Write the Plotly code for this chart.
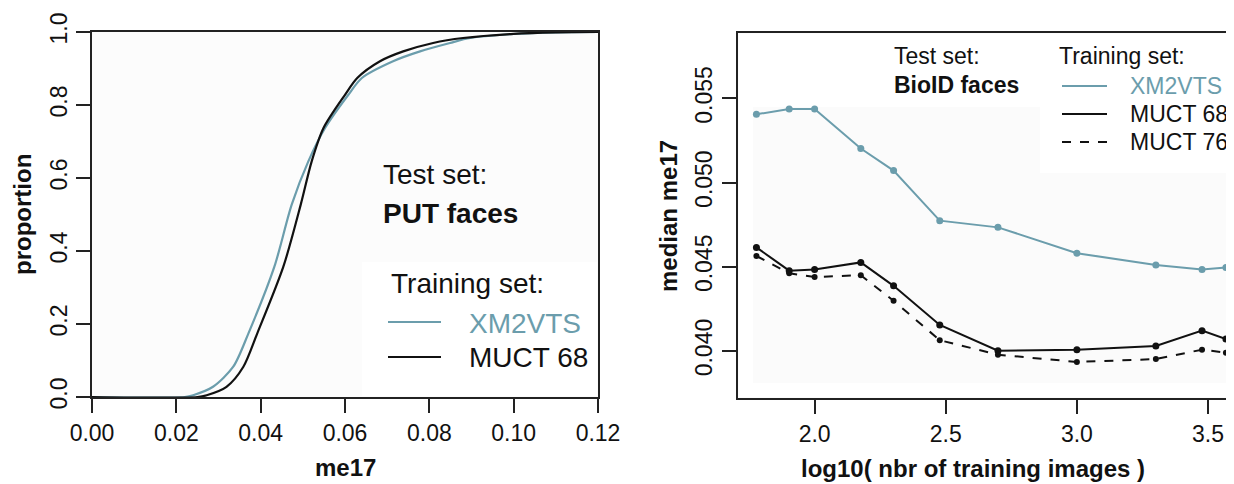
import numpy as np
import plotly.graph_objects as go

# page is drawn with an 8px body margin, so the figure is sized/offset accordingly
OFF = 8
W, H = 1234 - OFF, 484 - OFF

# ---------------- Data ----------------
# Left panel: cumulative distribution of me17 on PUT faces
cdf_xm2vts_x = [0.0, 0.022, 0.024, 0.0287, 0.0335, 0.0371, 0.04325, 0.04736, 0.0513,
                0.05527, 0.0608, 0.064, 0.0714, 0.0778, 0.0849, 0.0897, 0.100, 0.110, 0.120]
cdf_xm2vts_y = [0.0, 0.0, 0.005, 0.028, 0.083, 0.1745, 0.357, 0.527, 0.6457,
                0.737, 0.828, 0.874, 0.920, 0.947, 0.970, 0.9836, 0.9945, 0.999, 1.0]
cdf_muct68_x = [0.0, 0.025, 0.0272, 0.0319, 0.0359, 0.0392, 0.04538, 0.0495, 0.0521,
                0.0549, 0.0600, 0.0629, 0.0683, 0.0738, 0.0809, 0.0880, 0.100, 0.110, 0.120]
cdf_muct68_y = [0.0, 0.0, 0.005, 0.028, 0.083, 0.1745, 0.357, 0.527, 0.6457,
                0.737, 0.828, 0.874, 0.920, 0.947, 0.970, 0.9836, 0.995, 0.999, 1.0]

# Right panel: median me17 on BioID faces vs training set size
n_training = [60, 80, 100, 150, 200, 300, 500, 1000, 2000, 3000, 3700]
median_xm2vts = [0.05405, 0.05437, 0.05437, 0.05202, 0.05071, 0.04774, 0.04734,
                 0.04581, 0.04510, 0.04484, 0.04496]
median_muct68 = [0.04615, 0.04477, 0.04484, 0.04526, 0.04387, 0.04155, 0.04002,
                 0.04008, 0.04030, 0.04121, 0.04071]
median_muct76 = [0.04564, 0.04462, 0.04439, 0.04450, 0.04298, 0.04064, 0.03978,
                 0.03935, 0.03952, 0.04008, 0.03990]

left_xticks = [0.00, 0.02, 0.04, 0.06, 0.08, 0.10, 0.12]
left_xticklabels = ["0.00", "0.02", "0.04", "0.06", "0.08", "0.10", "0.12"]
left_yticks = [0.0, 0.2, 0.4, 0.6, 0.8, 1.0]
left_yticklabels = ["0.0", "0.2", "0.4", "0.6", "0.8", "1.0"]
right_xticks = [2.0, 2.5, 3.0, 3.5]
right_xticklabels = ["2.0", "2.5", "3.0", "3.5"]
right_yticks = [0.040, 0.045, 0.050, 0.055]
right_yticklabels = ["0.040", "0.045", "0.050", "0.055"]

TEAL = "#6b9dac"
BLACK = "#111111"
AXC = "#222222"
FONT = "Liberation Sans, Arial, Helvetica, sans-serif"

log_n = np.log10(n_training)

# ---------------- Figure ----------------
def px(x):
    return (x - OFF) / W

def py(y):
    return 1 - (y - OFF) / H

fig = go.Figure()

fig.add_trace(go.Scatter(x=cdf_xm2vts_x, y=cdf_xm2vts_y, mode="lines", line_shape="spline",
                         line=dict(color=TEAL, width=2.2, smoothing=0.8), xaxis="x", yaxis="y", showlegend=False))
fig.add_trace(go.Scatter(x=cdf_muct68_x, y=cdf_muct68_y, mode="lines", line_shape="spline",
                         line=dict(color=BLACK, width=2.2, smoothing=0.8), xaxis="x", yaxis="y", showlegend=False))

fig.add_trace(go.Scatter(x=log_n, y=median_xm2vts, mode="lines+markers",
                         line=dict(color=TEAL, width=2), marker=dict(color=TEAL, size=7),
                         xaxis="x2", yaxis="y2", showlegend=False))
fig.add_trace(go.Scatter(x=log_n, y=median_muct68, mode="lines+markers",
                         line=dict(color=BLACK, width=2), marker=dict(color=BLACK, size=7),
                         xaxis="x2", yaxis="y2", showlegend=False))
fig.add_trace(go.Scatter(x=log_n, y=median_muct76, mode="lines+markers",
                         line=dict(color=BLACK, width=2, dash="dash"), marker=dict(color=BLACK, size=6),
                         xaxis="x2", yaxis="y2", showlegend=False))

axis_common = dict(showgrid=False, zeroline=False, showline=True, linecolor=AXC, linewidth=2,
                   ticks="outside", ticklen=14, tickwidth=2, tickcolor=AXC, automargin=False,
                   tickfont=dict(family=FONT, size=23, color="#111"))

fig.update_layout(
    template="none",
    width=W, height=H,
    margin=dict(l=0, r=0, t=0, b=0, pad=0, autoexpand=False),
    paper_bgcolor="white", plot_bgcolor="#fcfcfc",
    xaxis=dict(domain=[px(92), px(598)], range=[0, 0.12], anchor="y", mirror=True,
               tickvals=left_xticks, ticktext=left_xticklabels, **axis_common),
    yaxis=dict(domain=[py(397), py(32)], range=[0, 1], anchor="x", mirror=True,
               tickvals=left_yticks, ticktext=left_yticklabels, tickangle=-90, **axis_common),
    xaxis2=dict(domain=[px(737.5), 1.0], range=[1.706, 3.599], anchor="y2", mirror=True,
                tickvals=right_xticks, ticktext=right_xticklabels, **axis_common),
    yaxis2=dict(domain=[py(398), py(33)], range=[0.03721, 0.05888], anchor="x2", mirror=False,
                tickvals=right_yticks, ticktext=right_yticklabels, tickangle=-90, **axis_common),
)

# faint background areas (R device shading)
shapes = [
    dict(type="rect", xref="paper", yref="paper", x0=px(362), x1=px(597), y0=py(396), y1=py(262),
         fillcolor="white", line=dict(width=0), layer="below"),
    dict(type="rect", xref="paper", yref="paper", x0=px(739), x1=1.0, y0=py(397), y1=py(34),
         fillcolor="white", line=dict(width=0), layer="below"),
    dict(type="rect", xref="paper", yref="paper", x0=px(753), x1=px(1232), y0=py(383), y1=py(107),
         fillcolor="#fbfbfb", line=dict(width=0), layer="below"),
    dict(type="rect", xref="paper", yref="paper", x0=px(1040), x1=1.0, y0=py(173), y1=py(34),
         fillcolor="white", line=dict(width=0), layer="below"),
]
# legend keys
shapes += [
    dict(type="line", xref="paper", yref="paper", x0=px(388), x1=px(441), y0=py(322), y1=py(322),
         line=dict(color=TEAL, width=2)),
    dict(type="line", xref="paper", yref="paper", x0=px(388), x1=px(441), y0=py(357), y1=py(357),
         line=dict(color=BLACK, width=2)),
    dict(type="line", xref="paper", yref="paper", x0=px(1062), x1=px(1107), y0=py(86), y1=py(86),
         line=dict(color=TEAL, width=2)),
    dict(type="line", xref="paper", yref="paper", x0=px(1062), x1=px(1107), y0=py(114), y1=py(114),
         line=dict(color=BLACK, width=2)),
    dict(type="line", xref="paper", yref="paper", x0=px(1062), x1=px(1107), y0=py(142), y1=py(142),
         line=dict(color=BLACK, width=2, dash="dash")),
]
fig.update_layout(shapes=shapes)

def txt(x, y, s, size, color="#111", bold=False, angle=0, xanchor="left"):
    fig.add_annotation(x=px(x), y=py(y), xref="paper", yref="paper", text=f"<b>{s}</b>" if bold else s,
                       showarrow=False, xanchor=xanchor, yanchor="middle", textangle=angle,
                       font=dict(family=FONT, size=size, color=color))

# left panel texts
txt(381, 174, "Test set:", 28)
txt(381, 213, "PUT faces", 28, bold=True)
txt(389, 283, "Training set:", 28)
txt(467, 323, "XM2VTS", 28, color=TEAL)
txt(467, 357, "MUCT 68", 28)
txt(345, 467, "me17", 24, bold=True, xanchor="center")
txt(22, 215, "proportion", 24, bold=True, angle=-90, xanchor="center")

# right panel texts
txt(892, 56, "Test set:", 23)
txt(892, 85, "BioID faces", 23, bold=True)
txt(1057, 56, "Training set:", 23)
txt(1128, 86, "XM2VTS", 23, color=TEAL)
txt(1128, 114, "MUCT 68", 23)
txt(1128, 142, "MUCT 76", 23)
txt(973, 468, "log10( nbr of training images )", 24, bold=True, xanchor="center")
txt(668, 216, "median me17", 24, bold=True, angle=-90, xanchor="center")

fig.write_html("out.html")
